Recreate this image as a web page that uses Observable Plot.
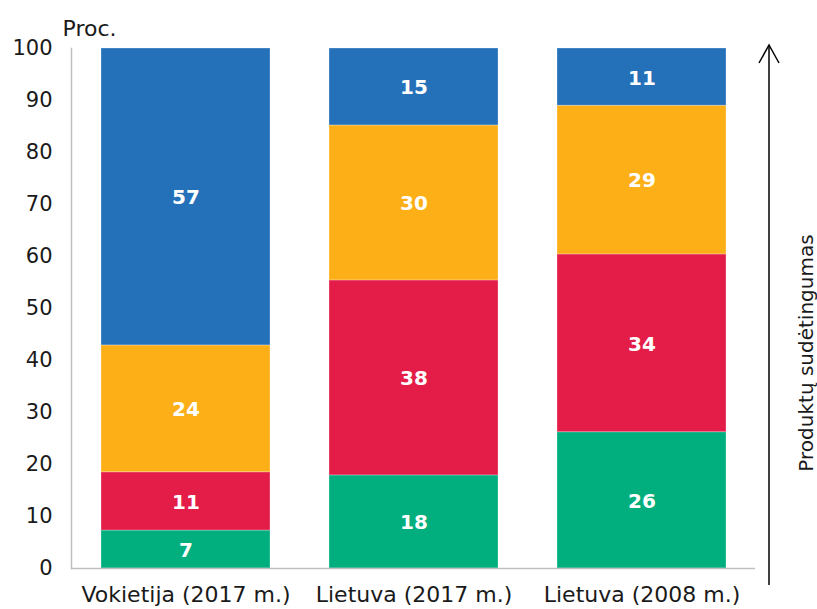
<!DOCTYPE html>
<html>
<head>
<meta charset="utf-8">
<script src="https://cdn.jsdelivr.net/npm/d3@7"></script>
<script src="https://cdn.jsdelivr.net/npm/@observablehq/plot@0.6"></script>
<style>
  html, body { margin: 0; padding: 0; background: #fff; }
  #chart svg text { font-family: "DejaVu Sans", Verdana, sans-serif; }
  #chart svg [aria-label="y-axis tick label"] text { font-size: 21px !important; }
  #chart svg [aria-label="x-axis tick label"] text { font-size: 22px !important; }
  #chart svg .barlabel text { font-size: 20px !important; }
</style>
</head>
<body>
<div id="chart"></div>
<script>
const categories = ["Vokietija (2017 m.)", "Lietuva (2017 m.)", "Lietuva (2008 m.)"];
const seriesNames = ["s1", "s2", "s3", "s4"];
const seriesColors = ["#00af7d", "#e31d48", "#fcaf17", "#2571b9"];
const s1Values = [7.3, 17.9, 26.2];
const s2Values = [11.2, 37.5, 34.2];
const s3Values = [24.4, 29.8, 28.6];
const s4Values = [57.1, 14.8, 11.0];
const yTicks = [0, 10, 20, 30, 40, 50, 60, 70, 80, 90, 100];
const yLabel = "Proc.";
const sideLabel = "Produktų sudėtingumas";

const seriesValues = [s1Values, s2Values, s3Values, s4Values];
const data = [];
seriesNames.forEach((s, si) => {
  categories.forEach((c, ci) => {
    data.push({category: c, series: s, value: seriesValues[si][ci], label: String(Math.round(seriesValues[si][ci]))});
  });
});

const W = 817, H = 609;
const chart = Plot.plot({
  width: W,
  height: H,
  marginLeft: 71,
  marginRight: 62,
  marginTop: 48,
  marginBottom: 41,
  style: {fontFamily: '"DejaVu Sans", Verdana, sans-serif', fontSize: "21px", color: "#1a1a1a", background: "#fff"},
  x: {domain: categories, paddingInner: 0.26, paddingOuter: 0.13, label: null},
  y: {domain: [0, 100], label: null},
  color: {domain: seriesNames, range: seriesColors},
  marks: [
    Plot.barY(data, {x: "category", y: "value", fill: "series", inset: 0, stroke: "#ffffff", strokeOpacity: 0.35, strokeWidth: 0.8}),
    Plot.text(data, Plot.stackY({x: "category", y: "value", text: "label", fill: "white", fontWeight: "bold", fontSize: 20, className: "barlabel", dy: 1})),
    Plot.axisY({ticks: yTicks, tickSize: 0, tickPadding: 19, fontSize: 21, label: null}),
    Plot.axisX({tickSize: 0, tickPadding: 18, fontSize: 22, label: null}),
    Plot.ruleY([0], {stroke: "#bfbfbf", strokeWidth: 1.5}),
    Plot.frame({anchor: "left", stroke: "#bfbfbf", strokeWidth: 1.5}),
    Plot.text([yLabel], {frameAnchor: "top-left", dx: -9, dy: -28, textAnchor: "start", fontSize: 22})
  ]
});

const svg = d3.select(chart);
const ax = W - 48;
svg.append("line")
  .attr("x1", ax).attr("x2", ax)
  .attr("y1", 585).attr("y2", 46)
  .attr("stroke", "#000").attr("stroke-width", 1.5);
svg.append("path")
  .attr("d", `M${ax - 10},${63} L${ax},${45} L${ax + 10},${63}`)
  .attr("fill", "none").attr("stroke", "#000").attr("stroke-width", 1.5);
svg.append("text")
  .attr("transform", `translate(${813},${353}) rotate(-90)`)
  .attr("text-anchor", "middle")
  .attr("fill", "#1a1a1a")
  .style("font-size", "20px")
  .text(sideLabel);

document.getElementById("chart").appendChild(chart);
</script>
</body>
</html>
